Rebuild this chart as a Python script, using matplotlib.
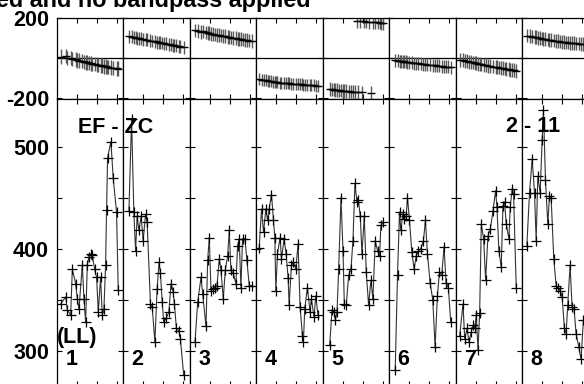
import matplotlib
matplotlib.use('Agg')
import matplotlib.pyplot as plt

# Time stamps inside each baseline panel (panel runs 0..10)
t1 = [0.6, 1.35, 1.6, 2.1, 2.35, 2.85, 3.1, 3.35, 3.85, 4.1, 4.35, 4.6, 4.85, 5.1,
      5.35, 5.7, 6.0, 6.25, 6.6, 6.85, 7.1, 7.35, 7.5, 7.65, 8.15, 8.5, 9.0, 9.25]
t2 = [0.86, 1.26, 1.6, 1.86, 2.1, 2.36, 2.7, 3.0, 3.36, 3.6, 4.1, 4.36, 4.76, 5.1,
      5.4, 5.6, 5.86, 6.1, 6.45, 6.86, 7.2, 7.5, 7.7, 8.0, 8.36, 8.6, 9.1]
t3 = [0.8, 1.2, 1.7, 1.95, 2.45, 2.7, 2.95, 3.2, 3.45, 3.8, 4.1, 4.45, 4.7, 5.05,
      5.35, 5.7, 5.95, 6.2, 6.55, 6.95, 7.2, 7.45, 7.7, 7.95, 8.3, 8.6, 8.95, 9.3]
t4 = [0.45, 0.8, 1.1, 1.45, 1.7, 1.95, 2.3, 2.6, 2.8, 2.95, 3.2, 3.6, 3.8, 4.2, 4.5,
      4.8, 4.95, 5.3, 5.6, 5.95, 6.3, 6.6, 6.95, 7.1, 7.3, 7.7, 8.1, 8.3, 8.7, 8.95, 9.3]
t5 = [1.05, 1.4, 1.75, 1.9, 2.15, 2.4, 2.75, 3.05, 3.25, 3.55, 3.9, 4.25, 4.55, 4.85,
      5.15, 5.35, 5.65, 5.9, 6.25, 6.55, 6.9, 7.25, 7.55, 7.9, 8.25, 8.55, 8.75, 9.05]
t6 = [0.9, 1.25, 1.55, 1.75, 2.05, 2.25, 2.55, 2.75, 3.05, 3.4, 3.75, 4.05, 4.4, 4.75,
      5.15, 5.45, 5.75, 6.15, 6.55, 6.9, 7.25, 7.55, 7.9, 8.25, 8.55, 8.9, 9.25]
t7 = [0.6, 1.1, 1.35, 1.7, 2.0, 2.35, 2.6, 2.85, 3.1, 3.35, 3.6, 3.85, 4.2, 4.5, 4.85,
      5.2, 5.6, 6.0, 6.2, 6.5, 6.85, 7.1, 7.35, 7.6, 8.0, 8.2, 8.5, 8.7, 9.1]
t8 = [0.7, 1.1, 1.5, 1.85, 2.1, 2.35, 2.7, 3.0, 3.2, 3.5, 3.85, 4.1, 4.35, 4.75, 5.1,
      5.35, 5.7, 6.0, 6.35, 6.6, 6.85, 7.2, 7.5, 7.8, 8.1, 8.5, 8.85, 9.2]

# Amplitudes (lower plot)
amp1 = [346, 353, 340, 335, 380, 366, 351, 341, 384, 351, 328, 384, 392, 395,
        394, 380, 372, 338, 372, 335, 341, 384, 438, 489, 505, 469, 436, 360]
amp2 = [437, 527, 436, 398, 432, 418, 432, 408, 434, 426, 346, 343, 309, 361,
        387, 376, 348, 328, 332, 338, 366, 358, 346, 322, 320, 312, 276]
amp3 = [309, 348, 372, 356, 324, 389, 411, 359, 361, 362, 364, 390, 379, 351,
        379, 393, 418, 379, 376, 366, 403, 410, 362, 410, 410, 389, 364, 364]
amp4 = [401, 439, 416, 439, 428, 439, 453, 428, 411, 359, 395, 411, 390, 410, 395,
        371, 345, 384, 387, 380, 405, 343, 315, 309, 341, 362, 338, 351, 333, 354, 335]
amp5 = [306, 340, 338, 330, 338, 380, 450, 398, 346, 345, 374, 380, 408, 464,
        446, 448, 432, 395, 432, 377, 345, 369, 351, 408, 398, 393, 423, 426]
amp6 = [281, 374, 436, 418, 434, 429, 432, 450, 428, 397, 380, 393, 398, 400,
        408, 428, 395, 367, 350, 304, 354, 377, 374, 402, 367, 362, 328]
amp7 = [315, 346, 312, 322, 309, 319, 325, 322, 335, 301, 337, 424, 410, 369, 413,
        419, 437, 457, 441, 398, 382, 442, 446, 424, 410, 441, 459, 454, 362]
amp8 = [403, 455, 488, 455, 408, 471, 455, 507, 536, 467, 424, 452, 450, 390,
        364, 362, 359, 353, 322, 317, 345, 384, 343, 341, 317, 304, 292, 330]

# Phases in degrees (upper plot)
ph1 = [8, 10, 2, 0, -4, -6, -10, -12, -14, -18, -20, -21, -24, -25,
       -28, -29, -32, -33, -36, -37, -40, -40, -43, -44, -46, -48, -50, -52]
ph2 = [110, 106, 104, 102, 100, 99, 96, 94, 92, 91, 88, 86, 84, 80,
       79, 77, 76, 74, 72, 70, 67, 65, 64, 62, 60, 58, 55]
ph3 = [138, 136, 132, 133, 128, 127, 125, 122, 122, 118, 117, 114, 113, 111,
       109, 106, 105, 103, 101, 99, 97, 96, 94, 93, 91, 90, 88, 87]
ph4 = [-102, -106, -108, -110, -112, -113, -115, -116, -118, -118, -120, -121, -122,
       -123, -124, -125, -125, -126, -127, -128, -128, -129, -130, -131, -131, -132,
       -133, -134, -135, -136, -137]
ph5 = [-152, -155, -156, -158, -159, -160, -161, -162, -163, -164, -165, -166, -166,
       -168, 186, -169, 185, -170, 184, 182, 181, -174, 180, 179, 178, 177, 176, 176]
ph6 = [-10, -12, -14, -15, -16, -17, -18, -20, -21, -22, -24, -25, -26, -28,
       -29, -30, -32, -33, -35, -36, -37, -38, -40, -41, -42, -43, -45]
ph7 = [-8, -10, -13, -15, -17, -19, -21, -23, -25, -27, -29, -31, -33, -35, -37,
       -39, -41, -43, -44, -46, -48, -50, -51, -53, -55, -57, -58, -60, -62]
ph8 = [113, 110, 108, 106, 104, 102, 100, 98, 97, 95, 93, 91, 90, 88,
       86, 85, 83, 82, 80, 79, 78, 77, 76, 75, 74, 73, 72, 72]

# Phase error per panel (deg)
phErr = [36, 32, 34, 30, 34, 32, 34, 34]
panelNames = ['1', '2', '3', '4', '5', '6', '7', '8']

times = [t1, t2, t3, t4, t5, t6, t7, t8]
amps = [amp1, amp2, amp3, amp4, amp5, amp6, amp7, amp8]
phases = [ph1, ph2, ph3, ph4, ph5, ph6, ph7, ph8]

plt.rcParams['font.family'] = ['Liberation Sans', 'DejaVu Sans']
plt.rcParams['font.weight'] = 'bold'
plt.rcParams['axes.unicode_minus'] = False

W, H = 584.0, 384.0
fig = plt.figure(figsize=(5.84, 3.84), dpi=100)

# Layout in pixels (the original plot is cut at the right and bottom)
x0 = 56.7
pw = 66.5
topY0, topY1 = 18.0, 98.5
botY1 = 386.0
fs = 15.5


def styleAxes(ax, first):
    ax.set_xlim(0, 10)
    ax.set_xticks([3, 6, 9])
    ax.tick_params(which='both', direction='in', top=True, right=True,
                   length=3.6, width=0.8, labelsize=fs, pad=5.5,
                   labelbottom=False, labelleft=first)
    for s in ax.spines.values():
        s.set_linewidth(0.9)


for i in range(8):
    left = (x0 + i * pw) / W
    # phase panel
    axp = fig.add_axes([left, 1 - topY1 / H, pw / W, (topY1 - topY0) / H])
    styleAxes(axp, i == 0)
    axp.set_ylim(-200, 200)
    axp.set_yticks([-200, 0, 200])
    axp.set_yticklabels(['-200', '', '200'])
    axp.axhline(0, color='k', lw=0.9)
    t = times[i]
    ph = phases[i]
    e = phErr[i]
    axp.vlines(t, [p - e for p in ph], [p + e for p in ph], color='0.35', lw=1.0)
    axp.hlines(ph, [x - 0.6 for x in t], [x + 0.6 for x in t], color='k', lw=1.0)

    # amplitude panel
    axa = fig.add_axes([left, 1 - botY1 / H, pw / W, (botY1 - topY1) / H])
    styleAxes(axa, i == 0)
    axa.set_ylim(265.7, 547.2)
    axa.set_yticks([300, 400, 500])
    axa.set_yticks([350, 450], minor=True)
    axa.plot(t, amps[i], color='0.2', lw=0.8)
    axa.plot(t, amps[i], ls='none', marker='+', color='k', ms=7, mew=0.9)

    fig.text((x0 + i * pw + 8.5) / W, 1 - 365 / H, panelNames[i],
             fontsize=fs, fontweight='bold', va='baseline')

fig.text(57 / W, 1 - 343.3 / H, '(LL)', fontsize=fs, fontweight='bold', va='baseline')
fig.text(78.5 / W, 1 - 132.7 / H, 'EF - ZC', fontsize=fs, fontweight='bold', va='baseline')
fig.text(506 / W, 1 - 131.7 / H, '2 - 11', fontsize=fs, fontweight='bold', va='baseline')
# title, cut at the top edge as in the source
fig.text(-4 / W, 1 - 6.5 / H, 'ed and no bandpass applied', fontsize=16.8,
         fontweight='bold', va='baseline')

fig.savefig('out.png', dpi=100)
